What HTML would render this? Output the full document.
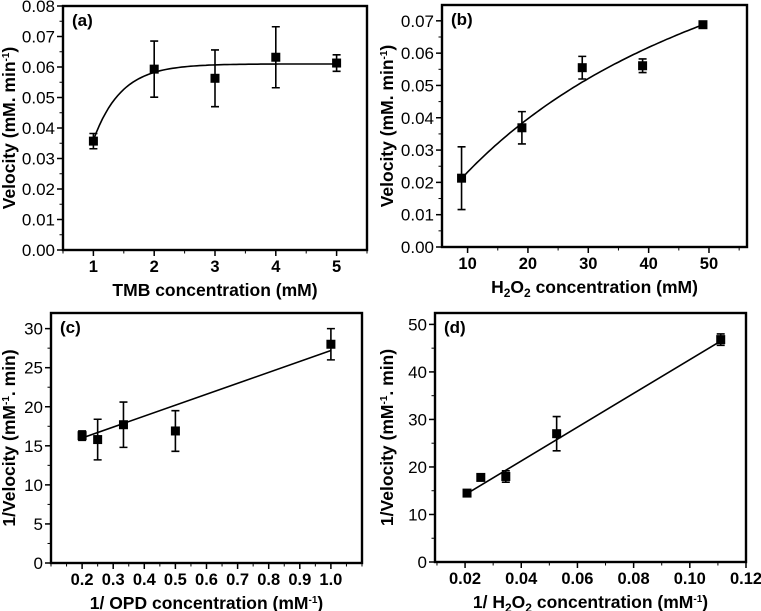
<!DOCTYPE html>
<html><head><meta charset="utf-8">
<style>
html,body{margin:0;padding:0;background:#fff;}
svg{display:block;font-family:"Liberation Sans",Arial,sans-serif;}
</style></head>
<body>
<svg id="fig" width="761" height="611" viewBox="0 0 761 611" xmlns="http://www.w3.org/2000/svg"></svg>
<script>
// Panel (a) data
const aX = [1, 2, 3, 4, 5];
const aY = [0.0357, 0.0593, 0.0563, 0.0632, 0.0613];
const aErr = [0.0025, 0.0092, 0.0093, 0.0100, 0.0027];
const aYTicks = ["0.00","0.01","0.02","0.03","0.04","0.05","0.06","0.07","0.08"];
const aXTicks = ["1","2","3","4","5"];
// Panel (b) data
const bX = [9, 19, 29, 39, 49];
const bY = [0.0213, 0.0369, 0.0555, 0.0561, 0.0688];
const bErr = [0.0097, 0.0050, 0.0035, 0.0021, 0.0005];
const bYTicks = ["0.00","0.01","0.02","0.03","0.04","0.05","0.06","0.07"];
const bXTicks = ["10","20","30","40","50"];
// Panel (c) data
const cX = [0.2, 0.25, 0.333, 0.5, 1.0];
const cY = [16.3, 15.8, 17.7, 16.9, 28.0];
const cErr = [0.6, 2.6, 2.9, 2.6, 2.0];
const cFit = [16.0, 27.2];
const cYTicks = ["0","5","10","15","20","25","30"];
const cXTicks = ["0.2","0.3","0.4","0.5","0.6","0.7","0.8","0.9","1.0"];
// Panel (d) data
const dX = [0.0207, 0.0256, 0.0345, 0.0526, 0.111];
const dY = [14.5, 17.8, 18.0, 27.0, 46.8];
const dErr = [0.3, 0.5, 1.2, 3.6, 1.2];
const dFit = [14.4, 46.5];
const dYTicks = ["0","10","20","30","40","50"];
const dXTicks = ["0.02","0.04","0.06","0.08","0.10","0.12"];

const NS = "http://www.w3.org/2000/svg";
const svg = document.getElementById("fig");
function mk(tag, attrs, parent, text){
  const e = document.createElementNS(NS, tag);
  for (const k in attrs) e.setAttribute(k, attrs[k]);
  if (text !== undefined) e.textContent = text;
  (parent || svg).appendChild(e);
  return e;
}

function panel(cfg){
  const g = mk("g", {});
  
  
  const {L,R,T,B,x0,x1,y0,y1} = cfg;
  const sx = v => L + (v - x0) / (x1 - x0) * (R - L);
  const sy = v => B - (v - y0) / (y1 - y0) * (B - T);
  cfg.yt.forEach(t => {
    const v = parseFloat(t), y = sy(v);
    const tk = mk("line", {x1:L-6, x2:L, y1:y, y2:y, stroke:"#000", "stroke-width":1.5}, g);
    
    
    const lb = mk("text", {x:L-8, y:y+6, "text-anchor":"end", "font-size":17}, g, t);
    
    
  });
  for (let v = y0; v <= y1 + 1e-9; v += cfg.ym) {
    mk("line", {x1:L-3.5, x2:L, y1:sy(v), y2:sy(v), stroke:"#000", "stroke-width":1}, g);
  }
  cfg.xt.forEach(t => {
    const v = parseFloat(t), x = sx(v);
    const tk = mk("line", {x1:x, x2:x, y1:B, y2:B+6, stroke:"#000", "stroke-width":1.5}, g);
    
    
    const lb = mk("text", {x:x, y:B+22, "text-anchor":"middle", "font-size":16.5, "font-weight":"bold"}, g, t);
    
    
  });
  for (let v = cfg.xms; v <= x1 + 1e-9; v += cfg.xm) {
    mk("line", {x1:sx(v), x2:sx(v), y1:B, y2:B+3.5, stroke:"#000", "stroke-width":1}, g);
  }
  const fr = mk("rect", {x:L, y:T, width:R-L, height:B-T, fill:"none", stroke:"#000", "stroke-width":2.4}, g);
  
  
  const fp = mk("path", {d:cfg.fit(sx, sy), fill:"none", stroke:"#000", "stroke-width":1.6}, g);
  
  
  cfg.xs.forEach((xv, i) => {
    const x = sx(xv), y = sy(cfg.ys[i]), e = cfg.er[i];
    const yt = sy(cfg.ys[i] + e), yb = sy(cfg.ys[i] - e);
    const eb = mk("path", {d:`M${x},${yt}V${yb}M${x-4},${yt}H${x+4}M${x-4},${yb}H${x+4}`, stroke:"#000", "stroke-width":1.6, fill:"none"}, g);
    
    
    const pt = mk("rect", {x:x-4.5, y:y-4.5, width:9, height:9, fill:"#000"}, g);
    
    
  });
  const pl = mk("text", {x:L+9, y:T+20, "font-size":17, "font-weight":"bold"}, g, cfg.label);
  
  
  const xtl = mk("text", {x:(L+R)/2, y:B+46, "text-anchor":"middle", "font-size":17.5, "font-weight":"bold"}, g);
  xtl.innerHTML = cfg.xtitle;
  
  
  const cy = (T+B)/2;
  const ytl = mk("text", {x:cfg.ytx, y:cy, "text-anchor":"middle", "font-size":17.5, "font-weight":"bold", transform:`rotate(-90 ${cfg.ytx} ${cy})`}, g);
  ytl.innerHTML = cfg.ytitle;
  
  
}

function curve(f, a, b, sx, sy){
  let d = "";
  for (let i = 0; i <= 80; i++){ const x = a + (b-a)*i/80; d += (i?"L":"M") + sx(x).toFixed(1) + "," + sy(f(x)).toFixed(1); }
  return d;
}

panel({id:"a", label:"(a)", L:63, R:367, T:6, B:250, x0:0.5, x1:5.5, y0:0, y1:0.08, ym:0.005, xm:0.5, xms:0.5,
  xs:aX, ys:aY, er:aErr, yt:aYTicks, xt:aXTicks, ytx:15,
  fit:(sx,sy)=>curve(x=>0.061-0.025*Math.exp(-2.2*(x-1)), 1, 5, sx, sy),
  xtitle:"TMB concentration (mM)", ytitle:'Velocity (mM. min<tspan dy="-6" font-size="10">-1</tspan><tspan dy="6">)</tspan>'});
panel({id:"b", label:"(b)", L:442, R:747, T:5, B:247, x0:5.76, x1:56.3, y0:0, y1:0.0749, ym:0.005, xm:5, xms:10,
  xs:bX, ys:bY, er:bErr, yt:bYTicks, xt:bXTicks, ytx:393,
  fit:(sx,sy)=>curve(x=>0.139*x/(50+x), 9, 49, sx, sy),
  xtitle:'H<tspan dy="4" font-size="12">2</tspan><tspan dy="-4">O</tspan><tspan dy="4" font-size="12">2</tspan><tspan dy="-4"> concentration (mM)</tspan>',
  ytitle:'Velocity (mM. min<tspan dy="-6" font-size="10">-1</tspan><tspan dy="6">)</tspan>'});
panel({id:"c", label:"(c)", L:51, R:362, T:313, B:563, x0:0.1, x1:1.1, y0:0, y1:32, ym:2.5, xm:0.05, xms:0.1,
  xs:cX, ys:cY, er:cErr, yt:cYTicks, xt:cXTicks, ytx:15,
  fit:(sx,sy)=>`M${sx(cX[0])},${sy(cFit[0])}L${sx(cX[4])},${sy(cFit[1])}`,
  xtitle:'1/ OPD concentration (mM<tspan dy="-6" font-size="10">-1</tspan><tspan dy="6">)</tspan>',
  ytitle:'1/Velocity (mM<tspan dy="-6" font-size="10">-1</tspan><tspan dy="6">. min)</tspan>'});
panel({id:"d", label:"(d)", L:435, R:746, T:313, B:562, x0:0.0093, x1:0.12, y0:0, y1:52.4, ym:5, xm:0.01, xms:0.01,
  xs:dX, ys:dY, er:dErr, yt:dYTicks, xt:dXTicks, ytx:393,
  fit:(sx,sy)=>`M${sx(dX[0])},${sy(dFit[0])}L${sx(dX[4])},${sy(dFit[1])}`,
  xtitle:'1/ H<tspan dy="4" font-size="12">2</tspan><tspan dy="-4">O</tspan><tspan dy="4" font-size="12">2</tspan><tspan dy="-4"> concentration (mM</tspan><tspan dy="-6" font-size="10">-1</tspan><tspan dy="6">)</tspan>',
  ytitle:'1/Velocity (mM<tspan dy="-6" font-size="10">-1</tspan><tspan dy="6">. min)</tspan>'});
</script>
</body></html>
